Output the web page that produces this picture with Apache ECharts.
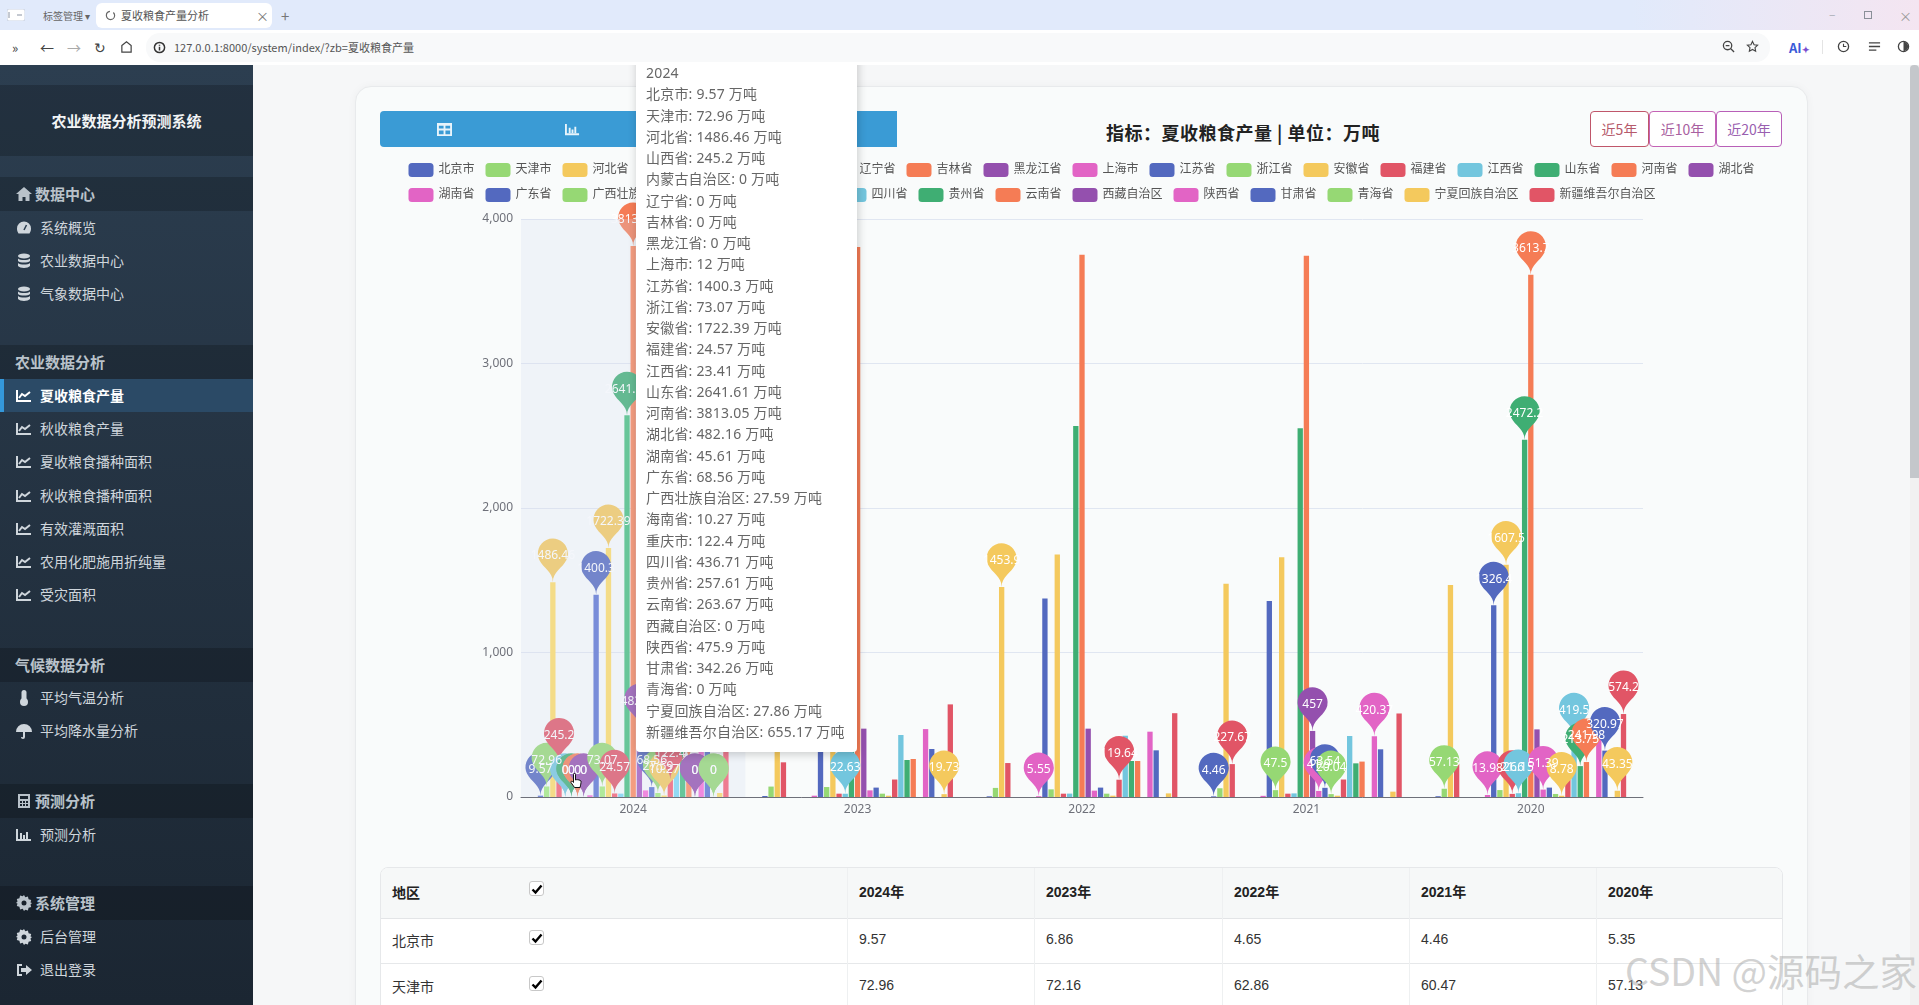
<!DOCTYPE html>
<html>
<head>
<meta charset="utf-8">
<title>夏收粮食产量分析</title>
<script src="https://cdn.jsdelivr.net/npm/echarts@6/dist/echarts.min.js"></script>
<style>
	* { box-sizing: border-box; }
	html, body { margin: 0; width: 1919px; height: 1005px; overflow: hidden; background: #f6f7f8; font-family: "Noto Sans CJK SC", "Noto Sans", sans-serif; color: #333; }
	.abs { position: absolute; white-space: nowrap; }
	/* 浏览器外框 */
	#tabs { position: absolute; left: 0; top: 0; width: 1919px; height: 30px; background: linear-gradient(90deg, #e1eafb 0%, #e1eafb 85%, #f4e5f1 100%); z-index: 20; }
	#tab { position: absolute; left: 96px; top: 3px; width: 176px; height: 25px; background: #fff; border-radius: 6px; font-size: 11px; line-height: 25px; color: #555; padding-left: 25px; }
	#addr { position: absolute; left: 0; top: 30px; width: 1919px; height: 35px; background: #fff; z-index: 20; font-size: 11px; color: #555; }
	#pill { position: absolute; left: 146px; top: 3px; width: 1624px; height: 29px; background: #f8f9fa; border-radius: 14px; line-height: 29px; padding-left: 28px; }
	/* 侧边栏 */
	#side { position: absolute; left: 0; top: 65px; width: 253px; height: 940px; background: linear-gradient(#2c3e50, #1b2632); z-index: 10; color: #cfd6dc; }
	.band { position: absolute; left: 0; width: 253px; background: rgba(0, 0, 0, .2); }
	.item { position: absolute; left: 0; width: 253px; height: 33px; line-height: 33px; padding-left: 40px; font-size: 14px; }
	.item svg, .head svg { position: absolute; left: 16px; top: 9px; }
	.head { position: absolute; left: 0; width: 253px; height: 34px; line-height: 34px; padding-left: 35px; font-size: 15px; font-weight: 700; color: #b9c2ca; background: rgba(0, 0, 0, .2); }
	.on { background: #2b4a66; border-left: 4px solid #3498db; padding-left: 36px; color: #fff; font-weight: 700; }
	.on svg { left: 12px; }
	/* 主卡片 */
	#card { position: absolute; left: 355px; top: 86px; width: 1453px; height: 940px; background: #f9fbfb; border: 1px solid #e8eaec; border-radius: 16px; box-shadow: 0 0 8px rgba(0, 0, 0, .04); }
	#bar { position: absolute; left: 380px; top: 111px; width: 517px; height: 36px; background: #3a9bd5; border-radius: 4px 0 0 4px; }
	#ttl { position: absolute; left: 1000px; width: 486px; top: 116px; text-align: center; font-size: 18px; letter-spacing: .5px; font-weight: 700; color: #222; line-height: 32px; }
	.btn { position: absolute; top: 111px; height: 36px; line-height: 34px; text-align: center; font-size: 14px; border: 1px solid; border-radius: 4px; background: #fff; }
	#main { position: absolute; left: 380px; top: 150px; width: 1403px; height: 680px; z-index: 1; }
	/* 表格 */
	#table { position: absolute; left: 380px; top: 867px; width: 1403px; height: 160px; background: #fff; border: 1px solid #e6e8ea; border-radius: 8px; font-size: 14px; font-family: "Liberation Sans", "Noto Sans CJK SC", sans-serif; overflow: hidden; }
	#thead { position: absolute; left: 0; top: 0; width: 100%; height: 51px; background: #f6f8f8; border-bottom: 1px solid #e3e5e7; }
	.rowline { position: absolute; left: 0; width: 100%; height: 1px; background: #e6e8ea; }
	.colline { position: absolute; top: 0; width: 1px; height: 160px; background: #eef0f1; }
	.chk { position: absolute; width: 15px; height: 15px; background: #fff; border: 1px solid #c8c8c8; border-radius: 3px; }
	#mark { position: absolute; left: 1625px; top: 945px; font-size: 37.5px; line-height: 50px; color: rgba(165, 165, 165, .5); z-index: 15; white-space: nowrap; }
	#scroll { position: absolute; left: 1910px; top: 65px; width: 9px; height: 940px; background: #f1f1f1; z-index: 9; }
	#thumb { position: absolute; left: 0; top: 0; width: 9px; height: 413px; background: #c4c7cb; border-radius: 4px 4px 0 0; }
	#hand { position: absolute; left: 570px; top: 773px; z-index: 16; }
</style>
</head>
<body>
<div id="tabs">
	<svg class="abs" style="left:7px;top:9px;" width="18" height="12" viewBox="0 0 18 12"><rect width="18" height="12" rx="2" fill="#fff" stroke="#c9d2e2"/><path d="M2 3v6M10 6h5" stroke="#8a93a3"/></svg>
	<div class="abs" style="left:43px;top:8px;font-size:10px;color:#666;">标签管理 ▾</div>
	<div id="tab">夏收粮食产量分析<span class="abs" style="left:160px;top:0;font-size:13px;color:#777;">×</span>
		<svg class="abs" style="left:9px;top:7px;" width="11" height="11" viewBox="0 0 12 12"><circle cx="6" cy="6" r="4.5" fill="none" stroke="#666" stroke-width="1.3" stroke-dasharray="20 4"/></svg>
	</div>
	<div class="abs" style="left:281px;top:5px;font-size:15px;color:#777;">+</div>
	<div class="abs" style="left:1829px;top:5px;font-size:12px;color:#a8adb5;">–</div>
	<svg class="abs" style="left:1864px;top:11px;" width="8" height="8" viewBox="0 0 8 8"><rect x=".5" y=".5" width="7" height="7" fill="none" stroke="#8a8f98"/></svg>
	<div class="abs" style="left:1899px;top:6px;font-size:13px;color:#999;">×</div>
</div>
<div id="addr">
	<div class="abs" style="left:12px;top:8px;font-size:13px;color:#444;">»</div>
	<div class="abs" style="left:40px;top:7px;font-size:14px;color:#444;">←</div>
	<div class="abs" style="left:67px;top:7px;font-size:14px;color:#aaa;">→</div>
	<div class="abs" style="left:94px;top:7px;font-size:14px;color:#444;">↻</div>
	<svg class="abs" style="left:120px;top:10px;" width="13" height="13" viewBox="0 0 14 14"><path d="M2 6l5-4 5 4v7H2z" fill="none" stroke="#444" stroke-width="1.3"/></svg>
	<div id="pill">127.0.0.1:8000/system/index/?zb=夏收粮食产量
		<svg class="abs" style="left:7px;top:8px;" width="13" height="13" viewBox="0 0 14 14"><circle cx="7" cy="7" r="5.5" fill="none" stroke="#333" stroke-width="1.6"/><path d="M7 4v1M7 6.3v4" stroke="#333" stroke-width="1.6"/></svg>
	</div>
	<svg class="abs" style="left:1722px;top:10px;" width="13" height="13" viewBox="0 0 14 14"><circle cx="6" cy="6" r="4.5" fill="none" stroke="#444" stroke-width="1.4"/><path d="M9.5 9.5L13 13M4 6h4" stroke="#444" stroke-width="1.4"/></svg>
	<svg class="abs" style="left:1746px;top:10px;" width="13" height="13" viewBox="0 0 14 14"><path d="M7 1.5l1.7 3.6 3.8.5-2.8 2.6.7 3.8L7 10.2 3.6 12l.7-3.8L1.5 5.6l3.8-.5z" fill="none" stroke="#444" stroke-width="1.2"/></svg>
	<div class="abs" style="left:1789px;top:8px;font-size:13px;font-weight:700;color:#3a5bd9;">AI<span style="font-size:9px;color:#7a4fd0;">✦</span></div>
	<div class="abs" style="left:1822px;top:10px;width:1px;height:14px;background:#e4e4e4;"></div>
	<svg class="abs" style="left:1837px;top:10px;" width="13" height="13" viewBox="0 0 14 14"><circle cx="7" cy="7" r="5.5" fill="none" stroke="#444" stroke-width="1.4"/><path d="M7 4v3h3" fill="none" stroke="#444" stroke-width="1.2"/></svg>
	<svg class="abs" style="left:1868px;top:10px;" width="13" height="13" viewBox="0 0 14 14"><path d="M1 3h12M1 7h12M1 11h8" stroke="#444" stroke-width="1.4"/></svg>
	<svg class="abs" style="left:1897px;top:10px;" width="13" height="13" viewBox="0 0 14 14"><circle cx="7" cy="7" r="5.5" fill="none" stroke="#444" stroke-width="1.4"/><path d="M7 2a5 5 0 0 1 0 10z" fill="#444"/></svg>
</div>
<div id="side"></div>
<div id="card"></div>
<div id="bar"></div>
<div id="ttl">指标：夏收粮食产量 | 单位：万吨</div>
<div class="btn" style="left:1590px;width:59px;color:#b65a6b;border-color:#c0566a;">近5年</div>
<div class="btn" style="left:1649px;width:67px;color:#a860a0;border-color:#c463b5;">近10年</div>
<div class="btn" style="left:1716px;width:66px;color:#9a5fb0;border-color:#b85fb8;">近20年</div>
<div id="main"></div>
<div id="table"></div>
<div id="mark">CSDN @源码之家</div>
<svg id="hand" width="12" height="16" viewBox="0 0 12 16"><path d="M3.5 1.5a1 1 0 0 1 2 0V7l1-.3c1-.2 4 .4 4.5 1.3.3 1.500-.5 4.500-1 6.500H4.500L1 9.500c-.5-1 .7-1.700 1.500-1L3.500 9.500z" fill="#fff" stroke="#111"/></svg>
<div id="scroll"><div id="thumb"></div></div>
<script>
var years = ['2024', '2023', '2022', '2021', '2020'];
var provinces = ['北京市', '天津市', '河北省', '山西省', '内蒙古自治区', '辽宁省', '吉林省', '黑龙江省', '上海市', '江苏省', '浙江省', '安徽省', '福建省', '江西省', '山东省', '河南省', '湖北省', '湖南省', '广东省', '广西壮族自治区', '海南省', '重庆市', '四川省', '贵州省', '云南省', '西藏自治区', '陕西省', '甘肃省', '青海省', '宁夏回族自治区', '新疆维吾尔自治区'];
// 每年一组，顺序与 provinces 相同
var v2024 = [9.57, 72.96, 1486.46, 245.2, 0, 0, 0, 0, 12, 1400.3, 73.07, 1722.39, 24.57, 23.41, 2641.61, 3813.05, 482.16, 45.61, 68.56, 27.59, 10.27, 122.4, 436.71, 257.61, 263.67, 0, 475.9, 342.26, 0, 27.86, 655.17];
var v2023 = [6.86, 72.16, 1470, 240, 0, 0, 0, 0, 9, 1385, 69, 1700, 23, 22.63, 2630, 3806, 473, 46, 65, 23, 9, 121, 429, 256, 263, 0, 470, 332, 0, 19.73, 641];
var v2022 = [4.65, 62.86, 1453.9, 235, 0, 0, 0, 0, 5.55, 1373, 53, 1678, 23, 23.5, 2567, 3753, 473, 44, 65, 23, 9.2, 119.64, 424, 249, 249, 0, 452, 323, 0, 25, 580];
var v2021 = [4.46, 60.47, 1475, 227.67, 0, 0, 0, 0, 8, 1356, 47.5, 1660, 23, 25, 2552, 3745, 457, 41.9, 63.54, 20.04, 9, 121, 422, 233, 245, 0, 420.37, 330, 0, 37, 578];
var v2020 = [5.35, 57.13, 1467, 230, 0, 0, 0, 0, 13.98, 1326.4, 48, 1607.5, 21.6, 26.15, 2472.2, 3613.7, 468, 51.39, 65, 21, 8.78, 120, 419.5, 213.75, 241.98, 0, 425, 320.97, 0, 43.35, 574.2];
var yearValues = [v2024, v2023, v2022, v2021, v2020];
var palette = ['#5369bf', '#96d874', '#f4c95d', '#e15566', '#73c6de', '#3fae73', '#f57c55', '#9450ae', '#e264c5'];

// 侧边栏文字
var sideIcons = {
	line: '<path d="M1 2v11h14M3 10l3-4 3 2 5-4" fill="none" stroke="currentColor" stroke-width="2"/>',
	db: '<ellipse cx="8" cy="3" rx="6" ry="2.6" fill="currentColor"/><path d="M2 5.5c2 2 10 2 12 0v2.5c-2 2-10 2-12 0zM2 10c2 2 10 2 12 0v3c-2 2.6-10 2.6-12 0z" fill="currentColor"/>',
	gauge: '<path d="M8 1.5a7 7 0 0 1 7 7c0 2-.6 3.5-1.5 5h-11C1.6 12 1 10.5 1 8.500a7 7 0 0 1 7-7z" fill="currentColor"/><path d="M8 10l2.5-5" stroke="#2c3e50" stroke-width="1.5"/>',
	gear: '<path d="M8 0l1.3 2.3 2.6-.7.7 2.6 2.600.7-.7 2.6L16 8l-1.500 1.500.7 2.600-2.600.7-.7 2.600-2.600-.7L8 16l-1.300-2.300-2.600.7-.7-2.600-2.600-.7.700-2.600L0 8l1.500-1.500-.7-2.600 2.600-.7.7-2.600 2.600.7zM8 5.500a2.500 2.500 0 1 0 0 5 2.500 2.500 0 0 0 0-5z" fill="currentColor" fill-rule="evenodd"/>',
	home: '<path d="M8 1L0 8h2.5v7h4v-4h3v4h4V8H16z" fill="currentColor"/>',
	temp: '<rect x="5.5" y="0" width="5" height="11" rx="2.5" fill="currentColor"/><circle cx="8" cy="12" r="4" fill="currentColor"/>',
	umb: '<path d="M0 9a8 8 0 0 1 16 0zM7 9h2v5a2 2 0 0 1-4 0h1.4a.6.6 0 0 0 .6.4z" fill="currentColor"/>',
	bars: '<path d="M1 2v11h14" fill="none" stroke="currentColor" stroke-width="2"/><path d="M4 6h2v6H4zM7 8h2v4H7zM10 5h2v7h-2z" fill="currentColor"/>',
	calc: '<path d="M2 1h12v14H2zM4 3v3h8V3zM4 8v2h2V8zm3 0v2h2V8zm3 0v2h2V8zM4 11v2h2v-2zm3 0v2h2v-2zm3 0v2h2v-2z" fill="currentColor" fill-rule="evenodd"/>',
	out: '<path d="M6 2H1v12h5v-2H3V4h3zM10 3v3H5v4h5v3l6-5z" fill="currentColor"/>'
};
var sideHeads = [['数据中心', 'home', 112], ['农业数据分析', '', 280], ['气候数据分析', '', 583], ['预测分析', 'calc', 719], ['系统管理', 'gear', 821]];
var sideItems = [['系统概览', 'gauge', 146], ['农业数据中心', 'db', 179], ['气象数据中心', 'db', 212],
	['夏收粮食产量', 'line', 314], ['秋收粮食产量', 'line', 347], ['夏收粮食播种面积', 'line', 380], ['秋收粮食播种面积', 'line', 414], ['有效灌溉面积', 'line', 447], ['农用化肥施用折纯量', 'line', 480], ['受灾面积', 'line', 513],
	['平均气温分析', 'temp', 616], ['平均降水量分析', 'umb', 649], ['预测分析', 'bars', 753], ['后台管理', 'gear', 855], ['退出登录', 'out', 888]];
function svgIcon(name) {
	return name ? '<svg width="16" height="16" viewBox="0 0 16 16">' + sideIcons[name] + '</svg>' : '';
}
var sideHtml = '<div class="band" style="top:20px;height:71px;"></div>';
sideHtml += '<div class="abs" style="left:0;width:253px;top:20px;line-height:71px;text-align:center;font-size:15px;font-weight:700;color:#f2f4f5;">农业数据分析预测系统</div>';
sideHeads.forEach(function (h) {
	var left = h[1] ? '' : 'padding-left:15px;';
	sideHtml += '<div class="head" style="top:' + h[2] + 'px;' + left + '">' + svgIcon(h[1]) + h[0] + '</div>';
});
sideItems.forEach(function (s, i) {
	sideHtml += '<div class="item' + (i == 3 ? ' on' : '') + '" style="top:' + s[2] + 'px;">' + svgIcon(s[1]) + s[0] + '</div>';
});
document.getElementById('side').innerHTML = sideHtml;

// 工具条图标
document.getElementById('bar').innerHTML =
	'<svg class="abs" style="left:57px;top:11px;" width="15" height="15" viewBox="0 0 16 16"><path d="M0 1h16v14H0zM2 4v3h5V4zm7 0v3h5V4zM2 9v4h5V9zm7 0v4h5V9z" fill="#e8f4fb" fill-rule="evenodd"/></svg>' +
	'<svg class="abs" style="left:185px;top:11px;color:#e8f4fb;" width="15" height="15" viewBox="0 0 16 16">' + sideIcons.bars + '</svg>';

// 表格，只显示前两行
var colX = [466, 653, 841, 1028, 1215];
var tableHtml = '<div id="thead"></div><div class="rowline" style="top:95px;"></div>';
var checkSvg = '<svg class="abs" style="left:1px;top:1px;" width="12" height="12" viewBox="0 0 12 12"><path d="M1.5 6.5l3 3 6-7" fill="none" stroke="#000" stroke-width="2.4"/></svg>';
colX.forEach(function (x, i) {
	tableHtml += '<div class="colline" style="left:' + x + 'px;"></div>';
	tableHtml += '<div class="abs" style="left:' + (x + 12) + 'px;top:13px;font-weight:700;color:#222;">' + years[i] + '年</div>';
	tableHtml += '<div class="abs" style="left:' + (x + 12) + 'px;top:63px;">' + yearValues[i][0] + '</div>';
	tableHtml += '<div class="abs" style="left:' + (x + 12) + 'px;top:109px;">' + yearValues[i][1] + '</div>';
});
tableHtml += '<div class="abs" style="left:11px;top:14px;font-weight:700;color:#222;">地区</div>';
tableHtml += '<div class="abs" style="left:11px;top:62px;">' + provinces[0] + '</div>';
tableHtml += '<div class="abs" style="left:11px;top:108px;">' + provinces[1] + '</div>';
[13, 62, 108].forEach(function (y) {
	tableHtml += '<div class="chk" style="left:148px;top:' + y + 'px;">' + checkSvg + '</div>';
});
document.getElementById('table').innerHTML = tableHtml;

// 柱状图
var chart = echarts.init(document.getElementById('main'));
var seriesList = provinces.map(function (name, i) {
	return {
		name: name,
		type: 'bar',
		barGap: '16%',
		barCategoryGap: '15%',
		data: yearValues.map(function (row) { return row[i]; }),
		markPoint: {
			label: { color: '#fff', fontSize: 12 },
			data: [{ type: 'max' }, { type: 'min' }]
		}
	};
});
var option = {
	animation: false,
	color: palette,
	textStyle: { fontFamily: '"Noto Sans", "Noto Sans CJK SC", sans-serif' },
	legend: {
		top: 8,
		itemGap: 11,
		data: provinces,
		textStyle: { color: '#555', fontSize: 12 }
	},
	tooltip: {
		trigger: 'axis',
		alwaysShowContent: true,
		transitionDuration: 0,
		axisPointer: {
			type: 'shadow',
			shadowStyle: { color: 'rgba(210, 219, 238, 0.25)' }
		},
		backgroundColor: '#fff',
		borderWidth: 0,
		padding: 10,
		textStyle: { color: '#666', fontSize: 14 },
		extraCssText: 'line-height:21.25px;letter-spacing:.2px;width:221px;',
		position: [256, -98],
		formatter: function (params) {
			var text = params[0].axisValue;
			params.forEach(function (p) {
				text += '<br/>' + p.seriesName + ': ' + p.value + ' 万吨';
			});
			return text;
		}
	},
	grid: { left: 141, right: 140, top: 69, bottom: 33 },
	xAxis: {
		type: 'category',
		data: years,
		axisLine: { lineStyle: { color: '#6e7079' } },
		axisLabel: { color: '#6e7079', fontSize: 12, margin: 7 }
	},
	yAxis: {
		type: 'value',
		min: 0,
		max: 4000,
		interval: 1000,
		axisLabel: { color: '#6e7079', fontSize: 12 },
		splitLine: { lineStyle: { color: '#e0e6f1' } }
	},
	series: seriesList
};
chart.setOption(option);
chart.dispatchAction({ type: 'showTip', seriesIndex: 0, dataIndex: 0 });
</script>
</body>
</html>
